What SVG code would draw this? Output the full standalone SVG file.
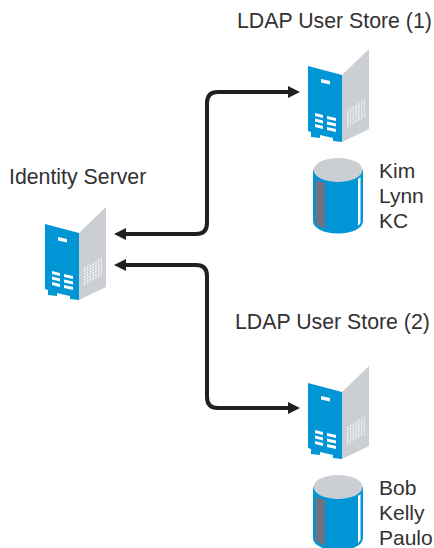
<svg xmlns="http://www.w3.org/2000/svg" width="434" height="548" viewBox="0 0 434 548">
<style>
text{font-family:"Liberation Sans",Arial,sans-serif;font-size:21.300px;fill:#333132}
.s{font-size:21px}
.c{fill:none;stroke:#231f20;stroke-width:4}
.a{fill:#231f20}
.b{fill:#0096d6}
.g{fill:#cbced3}
.w{fill:#fff}
</style>
<defs>
<pattern id="dots" width="2.8" height="2.8" patternUnits="userSpaceOnUse" patternTransform="skewY(-24)"><rect width="1.5" height="1.5" fill="#fff"/></pattern>
<g id="srv">
<path class="g" d="M79 233L106 207V287L79 300Z"/>
<path fill="url(#dots)" d="M83 268L102 257V275L83 287Z"/>
<path class="b" d="M45 224L79 233V300L70 299V296L57 293V296L48 295V290L45 289Z"/>
<path class="w" d="M58 237L67 239V242.500L58 240.500Z"/>
<path class="w" d="M52 271L60 273V276L52 274Z M64 274L73 276V279L64 277Z M52 276.500L60 278.500V281.500L52 279.500Z M64 279.500L73 281.500V284.500L64 282.500Z M52 282L60 284V287L52 285Z M64 285L73 287V290L64 288Z"/>
</g>
<g id="cyl">
<path class="b" d="M313 170V221C313 228 324 233.500 338 233.500C352 233.500 363 228 363 221V170Z"/>
<path fill="#6d7380" d="M315.500 180L325 183V229L315.500 224Z"/>
<path class="w" d="M358 179L360.500 177V223L358 226Z"/>
<ellipse class="g" cx="338" cy="170" rx="24.500" ry="12"/>
</g>
</defs>
<g id="connectors">
<path class="c" d="M124 234H196Q207 234 207 223V103Q207 92 218 92H290"/>
<path class="a" d="M114 234L126 228V240Z M300 92L288 86V98Z"/>
<path class="c" d="M124 265H196Q207 265 207 276V397Q207 408 218 408H290"/>
<path class="a" d="M114 265L126 259V271Z M300 408L288 402V414Z"/>
</g>
<g id="identity-server"><use href="#srv"/><text x="9" y="184">Identity Server</text></g>
<g id="ldap-1"><use href="#srv" transform="translate(263 -158)"/><text x="237" y="28">LDAP User Store (1)</text></g>
<g id="store-1"><use href="#cyl"/><text class="s" x="379" y="178">Kim</text><text class="s" x="379" y="203">Lynn</text><text class="s" x="379" y="228">KC</text></g>
<g id="ldap-2"><use href="#srv" transform="translate(263 159)"/><text x="235" y="329">LDAP User Store (2)</text></g>
<g id="store-2"><use href="#cyl" transform="translate(0 317)"/><text class="s" x="379" y="495">Bob</text><text class="s" x="379" y="520">Kelly</text><text class="s" x="379" y="545">Paulo</text></g>
</svg>
